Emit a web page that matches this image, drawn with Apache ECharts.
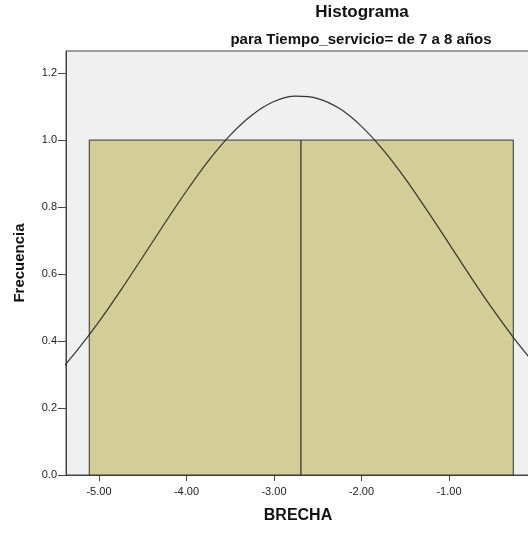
<!DOCTYPE html>
<html>
<head>
<meta charset="utf-8">
<script src="https://cdn.jsdelivr.net/npm/echarts@6/dist/echarts.min.js"></script>
<style>
  html, body { margin: 0; padding: 0; overflow: hidden; background: #fff; }
  #main { width: 540px; height: 539px; }
</style>
</head>
<body>
<div id="main"></div>
<script>
// histograma: 2 intervalos
const binStart = [-5.111, -2.691];
const binEnd = [-2.691, -0.265];
const counts = [1, 1];

// curva normal
const curveX = [-5.5, -5.25, -5.0, -4.75, -4.5, -4.25, -4.0, -3.75, -3.5, -3.25, -3.0, -2.75, -2.5, -2.25, -2.0, -1.75, -1.5, -1.25, -1.0, -0.75, -0.5, -0.25, 0.0];
const curveY = [0.294, 0.372, 0.458, 0.552, 0.651, 0.751, 0.848, 0.938, 1.015, 1.075, 1.115, 1.131, 1.124, 1.094, 1.041, 0.970, 0.885, 0.790, 0.691, 0.591, 0.495, 0.406, 0.325];

const xTicks = [-5, -4, -3, -2, -1];
const yTicks = [0, 0.2, 0.4, 0.6, 0.8, 1.0, 1.2];

const myChart = echarts.init(document.getElementById('main'));

const txt = '#222';
const font = 'Liberation Sans, Arial, sans-serif';

myChart.setOption({
    animation: false,
    textStyle: { fontFamily: font },
    title: [
        {
            text: 'Histograma',
            left: 357, top: -1, textAlign: 'center',
            textStyle: { fontSize: 17, fontWeight: 'bold', color: '#111', fontFamily: font }
        },
        {
            text: 'para Tiempo_servicio= de 7 a 8 años',
            left: 356, top: 27, textAlign: 'center',
            textStyle: { fontSize: 15, fontWeight: 'bold', color: '#111', fontFamily: font }
        }
    ],
    grid: {
        left: 66, top: 51, right: 10, bottom: 64,
        show: true,
        backgroundColor: '#f0f0f0',
        borderColor: '#444',
        borderWidth: 1
    },
    xAxis: {
        type: 'value',
        min: -5.377,
        max: -0.074,
        name: 'BRECHA',
        nameLocation: 'middle',
        nameGap: 33,
        nameTextStyle: { fontSize: 16, fontWeight: 'bold', color: '#111' },
        splitLine: { show: false },
        axisLine: { show: true, lineStyle: { color: '#444' } },
        axisTick: { show: true, length: 6, customValues: xTicks, lineStyle: { color: '#444' } },
        axisLabel: {
            customValues: xTicks,
            fontSize: 11, color: txt, margin: 11,
            formatter: v => v.toFixed(2)
        }
    },
    yAxis: {
        type: 'value',
        min: 0,
        max: 1.266,
        name: 'Frecuencia',
        nameLocation: 'middle',
        nameGap: 39,
        nameTextStyle: { fontSize: 15, fontWeight: 'bold', color: '#111' },
        splitLine: { show: false },
        axisLine: { show: true, lineStyle: { color: '#444' } },
        axisTick: { show: true, length: 8, customValues: yTicks, lineStyle: { color: '#444' } },
        axisLabel: {
            customValues: yTicks,
            fontSize: 11, color: txt, margin: 9,
            formatter: v => v.toFixed(1)
        }
    },
    series: [
        {
            type: 'custom',
            data: counts.map((c, i) => [binStart[i], binEnd[i], c]),
            renderItem: (params, api) => {
                const p0 = api.coord([api.value(0), 0]);
                const p1 = api.coord([api.value(1), api.value(2)]);
                return {
                    type: 'rect',
                    shape: { x: p0[0], y: p1[1], width: p1[0] - p0[0], height: p0[1] - p1[1] },
                    style: { fill: '#d3ce98', stroke: '#333', lineWidth: 1 }
                };
            },
            encode: { x: [0, 1], y: 2 },
            z: 2
        },
        {
            type: 'line',
            data: curveX.map((x, i) => [x, curveY[i]]),
            smooth: 0.3,
            showSymbol: false,
            lineStyle: { color: '#333', width: 1.2 },
            z: 3
        }
    ]
});
</script>
</body>
</html>
